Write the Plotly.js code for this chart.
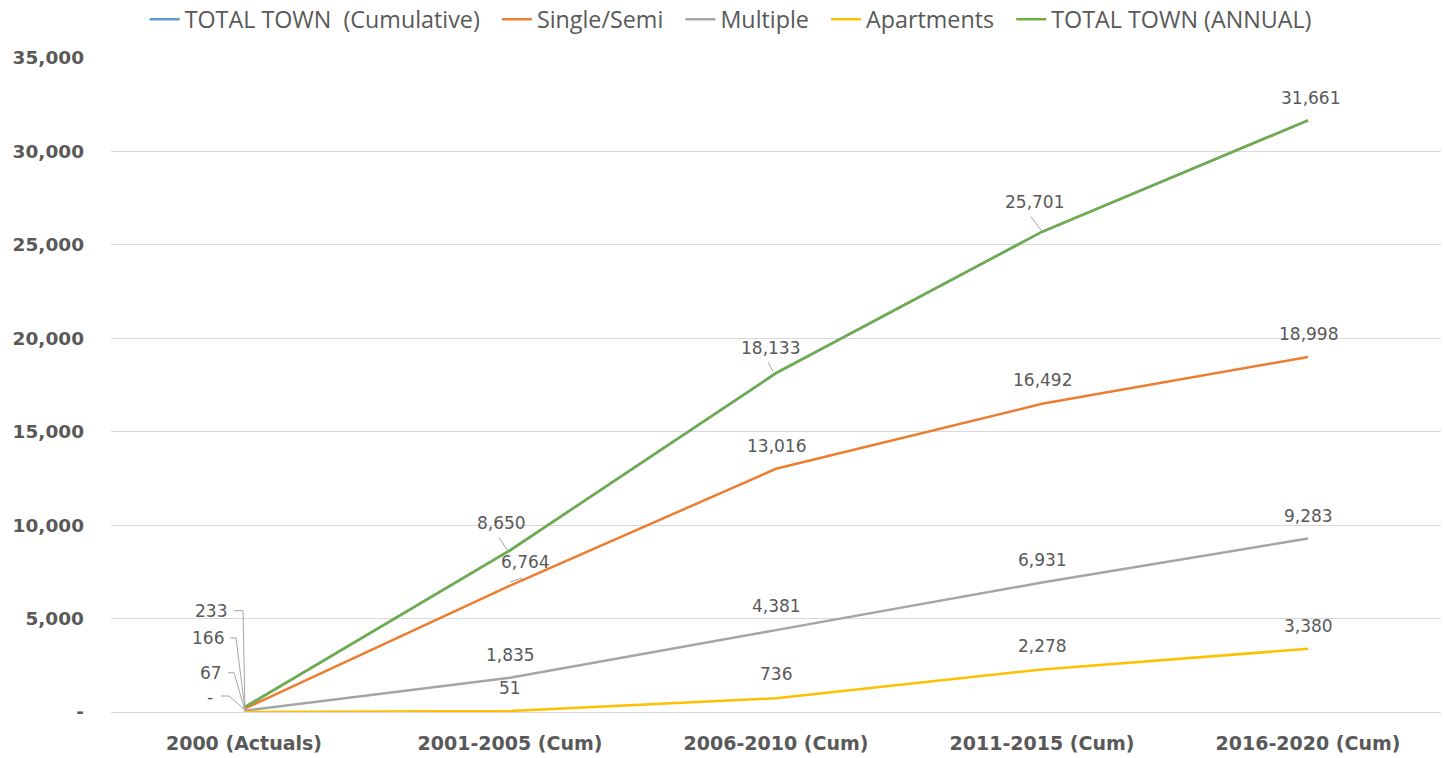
<!DOCTYPE html>
<html>
<head>
<meta charset="utf-8">
<script src="https://cdn.plot.ly/plotly-3.0.1.min.js"></script>
<style>html,body{margin:0;padding:0;background:#fff;}#chart{width:1445px;height:758px;}</style>
</head>
<body>
<div id="chart"></div>
<script>
// ---- data ----
const categories = ['2000 (Actuals)', '2001-2005 (Cum)', '2006-2010 (Cum)', '2011-2015 (Cum)', '2016-2020 (Cum)'];
const totalCumulative = [233, 8650, 18133, 25701, 31661];
const singleSemi = [166, 6764, 13016, 16492, 18998];
const multiple = [67, 1835, 4381, 6931, 9283];
const apartments = [0, 51, 736, 2278, 3380];
const totalAnnual = [233, 8650, 18133, 25701, 31661];
const yTickVals = [0, 5000, 10000, 15000, 20000, 25000, 30000, 35000];
const yTickText = ['-', '5,000', '10,000', '15,000', '20,000', '25,000', '30,000', '35,000'];
const seriesNames = ['TOTAL TOWN\u00a0 (Cumulative)', 'Single/Semi', 'Multiple', 'Apartments', 'TOTAL TOWN (ANNUAL)'];

// ---- styles ----
const colors = ['#5b9bd5', '#ed7d31', '#a5a5a5', '#ffc000', '#70ad47'];
const textColor = '#595959';
const labelFont = {family: 'DejaVu Sans', size: 17, color: textColor};
const legendPad = '\u00a0\u00a0';

const seriesData = [totalCumulative, singleSemi, multiple, apartments, totalAnnual];

const traces = seriesData.map((vals, i) => ({
  type: 'scatter', mode: 'lines', x: categories, y: vals,
  name: seriesNames[i] + (i < seriesData.length - 1 ? legendPad : ''),
  line: {color: colors[i], width: 2.5}, hoverinfo: 'skip'
}));

function fmt(v) { return v === 0 ? '-' : v.toLocaleString('en-US'); }

// label offsets (pixels) per labelled series: [xshift, yshift, xanchor]
const labelOffsets = {
  4: [[-15, 97, 'right'], [-9, 27], [-5.5, 25], [-8, 30], [2, 22]],
  1: [[-18, 71, 'right'], [15, 23.5], [0, 23], [0, 24], [0, 23]],
  2: [[-20, 38, 'right'], [0, 23], [0, 24], [0, 22.5], [0, 22.5]],
  3: [[-29, 15, 'right'], [0, 23], [0, 24], [0, 23], [0, 23]]
};
// leader line paths (pixels relative to point, y up)
const leaders = {
  4: {0: 'M-10,97 L-1,97 L1,-2', 1: 'M-11,13 L-3,0.5', 2: 'M-8,11 L-3,1.5', 3: 'M-11,15 L-1,1.7'},
  1: {0: 'M-14,71 L-8,71 L1,-1', 1: 'M0,3.6 L12,7.6'},
  2: {0: 'M-16,38 L-10,38 L1,0'},
  3: {0: 'M-23,16 L-15,16 L1,2'}
};

const annotations = [];
const shapes = [];
Object.keys(labelOffsets).forEach(k => {
  const si = +k;
  const vals = seriesData[si];
  vals.forEach((v, j) => {
    const o = labelOffsets[si][j];
    annotations.push({
      x: j, y: v, xref: 'x', yref: 'y', text: fmt(v), showarrow: false,
      xshift: o[0], yshift: o[1], xanchor: o[2] || 'center', yanchor: 'middle',
      font: labelFont
    });
    if (leaders[si] && leaders[si][j]) {
      shapes.push({
        type: 'path', xref: 'x', yref: 'y', xsizemode: 'pixel', ysizemode: 'pixel',
        xanchor: j, yanchor: v, path: leaders[si][j],
        line: {color: '#a6a6a6', width: 1}
      });
    }
  });
});

const layout = {
  width: 1445, height: 758,
  margin: {l: 111, r: 4, t: 58, b: 46, autoexpand: false},
  paper_bgcolor: '#fff', plot_bgcolor: '#fff',
  showlegend: true,
  legend: {
    orientation: 'h', x: 0.0253, xanchor: 'left', y: 1.0924, yanchor: 'top',
    font: {family: 'Open Sans', size: 23.3, color: textColor},
    bgcolor: 'rgba(0,0,0,0)', itemclick: false, itemdoubleclick: false
  },
  xaxis: {
    type: 'category', range: [-0.5, 4.5], showgrid: false, zeroline: false, showline: false,
    ticks: '', ticklabelstandoff: 18,
    tickfont: {family: 'DejaVu Sans', size: 19, color: textColor, weight: 'bold'}
  },
  yaxis: {
    range: [0, 35000], tickvals: yTickVals, ticktext: yTickText,
    showgrid: true, gridcolor: '#d9d9d9', gridwidth: 1, zeroline: true, zerolinecolor: '#d9d9d9', zerolinewidth: 1,
    showline: false, ticks: '', ticklabelstandoff: 26,
    tickfont: {family: 'DejaVu Sans', size: 18.5, color: textColor, weight: 'bold'}
  },
  annotations: annotations,
  shapes: shapes,
  hovermode: false
};

Plotly.newPlot('chart', traces, layout, {displayModeBar: false, staticPlot: true});
</script>
</body>
</html>
